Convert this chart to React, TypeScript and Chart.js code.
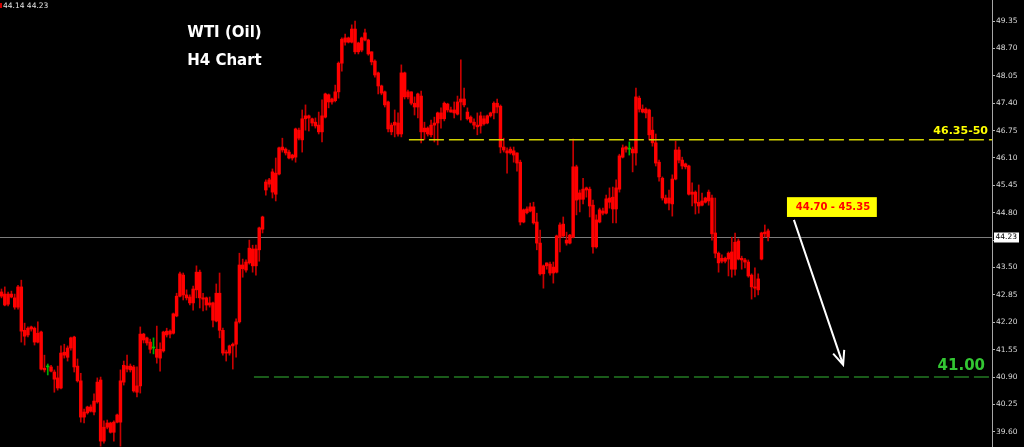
import React, { useEffect, useRef } from 'react';
import { Chart, registerables } from 'chart.js';

Chart.register(...registerables);

// ---- Candle data (WTI H4) ----
const opens = [
  42.92, 42.61, 42.87, 42.80, 42.78, 42.56, 43.04, 41.87, 41.90, 42.04,
  42.06, 41.73, 41.97, 41.07, 41.14, 41.14, 41.02, 40.88, 40.64, 41.42,
  41.37, 41.59, 41.85, 41.16, 40.81, 39.95, 40.05, 40.09, 40.07, 40.31,
  40.83, 39.38, 39.71, 39.81, 39.59, 39.83, 39.83, 40.78, 41.09, 41.16,
  41.14, 40.54, 40.69, 41.92, 41.83, 41.73, 41.59, 41.56, 41.35, 41.52,
  41.90, 41.99, 41.94, 42.35, 42.82, 43.32, 42.85, 42.80, 42.66, 42.97,
  43.39, 42.78, 42.78, 42.61, 42.66, 42.23, 42.89, 42.01, 41.47, 41.47,
  41.64, 41.68, 42.21, 43.56, 43.44, 43.61, 43.94, 43.54, 43.92, 44.41,
  45.34, 45.48, 45.77, 45.24, 45.72, 46.36, 46.31, 46.24, 46.10, 46.12,
  46.76, 46.53, 47.03, 47.10, 47.03, 46.95, 46.88, 46.72, 47.07, 47.60,
  47.43, 47.46, 47.67, 48.35, 48.95, 48.85, 48.85, 49.16, 48.62, 48.66,
  48.90, 48.90, 48.62, 48.40, 48.12, 47.81, 47.67, 47.43, 46.88, 46.88,
  46.93, 46.67, 48.12, 47.55, 47.67, 47.40, 47.31, 47.57, 46.72, 46.81,
  46.65, 46.88, 46.93, 47.17, 47.03, 47.38, 47.24, 47.24, 47.14, 47.43,
  47.50, 47.19, 47.07, 46.95, 46.88, 46.86, 47.03, 46.93, 47.10, 47.17,
  47.40, 47.33, 46.36, 46.27, 46.22, 46.27, 46.22, 46.00, 44.58, 44.89,
  44.84, 44.94, 44.58, 44.08, 43.35, 43.54, 43.58, 43.37, 43.39, 44.22,
  44.53, 44.15, 44.08, 44.22, 45.89, 45.12, 45.12, 45.34, 45.36, 44.98,
  43.99, 44.58, 44.84, 44.79, 45.15, 45.17, 44.89, 45.36, 46.12, 46.31,
  46.31, 46.31, 46.22, 47.52, 47.26, 47.26, 47.24, 46.76, 46.46, 46.00,
  45.62, 45.15, 45.03, 45.01, 45.60, 46.29, 46.05, 45.96, 45.91, 45.24,
  45.29, 45.05, 44.98, 45.05, 45.08, 45.15, 44.32, 43.84, 43.65, 43.72,
  43.70, 43.87, 43.46, 44.13, 43.72, 43.68, 43.63, 43.32, 43.04, 42.97,
  43.70, 44.30, 44.37,
];

const highs = [
  42.99, 43.04, 42.92, 42.94, 42.87, 43.08, 43.20, 42.18, 42.09, 42.11,
  42.09, 42.21, 41.99, 41.42, 41.21, 41.18, 41.07, 41.16, 41.64, 41.68,
  41.64, 41.85, 41.87, 41.33, 40.99, 40.14, 40.21, 40.24, 40.50, 40.88,
  40.90, 39.86, 39.88, 39.83, 39.86, 40.02, 41.07, 41.28, 41.42, 41.21,
  41.18, 41.14, 42.09, 41.94, 41.85, 41.80, 41.83, 42.11, 41.71, 41.99,
  42.06, 42.02, 42.42, 42.89, 43.39, 43.37, 42.97, 42.85, 43.06, 43.54,
  43.44, 42.89, 42.80, 42.80, 42.68, 43.11, 43.37, 42.06, 41.54, 41.66,
  41.71, 42.28, 43.84, 43.70, 43.68, 44.15, 44.03, 44.03, 44.46, 44.72,
  45.58, 45.62, 45.84, 46.10, 46.36, 46.57, 46.34, 46.29, 46.19, 46.81,
  46.81, 47.24, 47.36, 47.12, 47.05, 47.05, 47.19, 47.48, 47.64, 47.62,
  47.52, 47.83, 48.38, 48.95, 49.04, 48.97, 49.26, 49.35, 48.85, 48.97,
  49.16, 48.92, 48.62, 48.43, 48.14, 47.83, 47.69, 47.45, 46.93, 47.24,
  47.17, 48.31, 48.14, 47.71, 47.67, 47.55, 47.64, 47.69, 46.95, 46.84,
  47.00, 47.07, 47.19, 47.29, 47.43, 47.40, 47.31, 47.43, 47.57, 48.43,
  47.76, 47.29, 47.10, 47.03, 47.17, 47.19, 47.10, 47.12, 47.19, 47.43,
  47.50, 47.36, 46.57, 46.34, 46.36, 46.36, 46.22, 46.05, 44.89, 44.94,
  45.03, 45.05, 44.79, 44.39, 43.56, 43.61, 43.63, 43.63, 44.27, 44.56,
  44.70, 44.34, 44.29, 46.55, 45.93, 45.34, 45.62, 45.41, 45.41, 45.10,
  44.75, 44.91, 44.91, 45.22, 45.39, 45.41, 45.58, 46.19, 46.41, 46.38,
  46.48, 46.36, 47.76, 47.57, 47.36, 47.29, 47.26, 47.07, 46.67, 46.05,
  45.65, 45.22, 45.34, 45.70, 46.50, 46.36, 46.12, 45.98, 45.93, 45.51,
  45.32, 45.46, 45.27, 45.17, 45.34, 45.22, 45.15, 43.87, 43.80, 43.75,
  43.87, 44.22, 44.32, 44.18, 43.77, 43.72, 43.68, 43.35, 43.49, 43.35,
  44.34, 44.51, 44.41,
];

const lows = [
  42.78, 42.59, 42.59, 42.78, 42.51, 42.51, 41.73, 41.66, 41.85, 41.99,
  41.66, 41.71, 41.07, 41.02, 40.95, 41.02, 40.54, 40.59, 40.62, 41.35,
  41.28, 41.54, 41.02, 40.78, 39.83, 39.81, 40.02, 40.07, 40.00, 40.28,
  39.26, 39.33, 39.67, 39.57, 39.38, 39.81, 39.26, 40.71, 41.02, 41.02,
  40.54, 40.43, 40.52, 41.71, 41.66, 41.47, 41.45, 41.23, 41.04, 41.49,
  41.85, 41.83, 41.92, 42.33, 42.80, 42.73, 42.73, 42.61, 42.49, 42.78,
  42.54, 42.47, 42.49, 42.56, 42.09, 42.21, 41.83, 41.42, 41.28, 41.42,
  41.09, 41.37, 42.18, 43.27, 43.39, 43.58, 43.39, 43.32, 43.65, 44.32,
  45.22, 45.41, 45.15, 45.08, 45.70, 46.24, 46.17, 46.08, 46.05, 46.00,
  46.53, 46.24, 46.76, 46.74, 46.86, 46.81, 46.67, 46.48, 47.05, 47.29,
  47.38, 47.43, 47.52, 48.16, 48.78, 48.83, 48.83, 48.57, 48.57, 48.62,
  48.88, 48.54, 48.31, 48.02, 47.62, 47.60, 47.31, 46.72, 46.65, 46.60,
  46.62, 46.60, 47.50, 47.50, 47.36, 47.12, 47.05, 46.46, 46.53, 46.62,
  46.60, 46.48, 46.41, 46.81, 46.98, 47.19, 47.19, 47.05, 47.12, 47.00,
  47.31, 47.00, 46.93, 46.79, 46.65, 46.69, 46.88, 46.91, 47.07, 47.03,
  47.17, 46.22, 46.24, 45.74, 46.19, 46.00, 45.79, 44.51, 44.56, 44.77,
  44.82, 44.53, 43.92, 43.32, 43.01, 43.46, 43.32, 43.13, 43.37, 43.87,
  44.22, 44.03, 44.06, 44.20, 44.75, 44.82, 45.01, 45.17, 44.70, 43.84,
  43.96, 44.56, 44.75, 44.77, 44.91, 44.56, 44.56, 45.29, 46.10, 46.24,
  46.17, 45.77, 45.93, 47.19, 47.17, 47.05, 46.53, 46.38, 45.91, 45.55,
  45.10, 45.01, 44.87, 44.72, 45.58, 45.98, 45.84, 45.84, 45.22, 44.96,
  44.77, 44.79, 44.96, 45.03, 44.98, 44.15, 43.73, 43.39, 43.61, 43.61,
  43.30, 43.27, 43.32, 43.68, 43.46, 43.49, 43.27, 42.75, 42.80, 42.85,
  43.68, 44.22, 44.13,
];

const closes = [
  42.82, 42.87, 42.63, 42.87, 42.56, 43.04, 41.99, 42.01, 42.06, 42.09,
  41.73, 41.94, 41.09, 41.11, 41.14, 41.04, 40.85, 40.64, 41.47, 41.49,
  41.59, 41.83, 41.14, 40.81, 39.95, 40.07, 40.19, 40.19, 40.33, 40.78,
  39.38, 39.71, 39.81, 39.59, 39.83, 40.00, 40.81, 41.18, 41.16, 41.07,
  40.57, 40.69, 41.92, 41.78, 41.71, 41.56, 41.59, 41.37, 41.56, 41.97,
  41.99, 41.92, 42.40, 42.82, 43.35, 42.85, 42.78, 42.66, 42.99, 43.39,
  42.78, 42.75, 42.61, 42.66, 42.25, 42.89, 42.01, 41.47, 41.49, 41.64,
  41.68, 42.21, 43.56, 43.47, 43.63, 43.96, 43.54, 43.94, 44.44, 44.70,
  45.53, 45.58, 45.29, 45.74, 46.34, 46.29, 46.22, 46.10, 46.17, 46.79,
  46.57, 47.03, 47.10, 47.05, 46.93, 46.86, 46.72, 47.10, 47.62, 47.43,
  47.50, 47.67, 48.35, 48.92, 48.85, 48.95, 49.16, 48.62, 48.83, 48.95,
  49.07, 48.57, 48.38, 48.07, 47.81, 47.64, 47.36, 46.79, 46.72, 46.95,
  46.67, 48.12, 47.55, 47.67, 47.40, 47.31, 47.62, 46.72, 46.81, 46.67,
  46.88, 46.93, 47.17, 47.03, 47.40, 47.24, 47.19, 47.17, 47.43, 47.50,
  47.36, 47.03, 46.95, 46.88, 46.84, 47.10, 46.91, 47.10, 47.17, 47.40,
  47.31, 46.36, 46.29, 46.22, 46.31, 46.17, 45.98, 44.58, 44.87, 44.80,
  44.94, 44.56, 44.08, 43.35, 43.54, 43.61, 43.37, 43.51, 44.25, 44.51,
  44.25, 44.08, 44.27, 45.89, 45.10, 45.27, 45.36, 45.39, 44.96, 43.99,
  44.63, 44.87, 44.79, 45.13, 45.05, 44.89, 45.39, 46.15, 46.34, 46.36,
  46.31, 46.22, 47.55, 47.26, 47.19, 47.17, 46.65, 46.46, 45.98, 45.65,
  45.15, 45.03, 45.15, 45.60, 46.29, 46.05, 45.91, 45.89, 45.24, 45.29,
  45.03, 44.96, 45.08, 45.15, 45.29, 44.30, 43.84, 43.61, 43.72, 43.65,
  43.84, 43.46, 44.10, 43.70, 43.68, 43.63, 43.30, 43.04, 43.01, 43.23,
  44.32, 44.34, 44.23,
];

// ---- Axis ----
const priceTicks = [
  39.6, 40.25, 40.9, 41.55, 42.2, 42.85, 43.5, 44.15,
  44.8, 45.45, 46.1, 46.75, 47.4, 48.05, 48.7, 49.35,
];
const Y_MIN = 39.24;
const Y_MAX = 49.85;
const X_MIN = -0.45;
const X_MAX = 299.75;

// ---- Annotations (data coordinates: bar index, price) ----
const lastPrice = 44.23;
const bidAskText = '44.14 44.23';
const titleLines = ['WTI (Oil)', 'H4 Chart'];
const resistance = { price: 46.53, fromIndex: 123.3, label: '46.35-50' };
const support = { price: 40.9, fromIndex: 76.4, label: '41.00' };
const zone = { label: '44.70 - 45.35', fromIndex: 237.7, toIndex: 264.9, top: 45.17, bottom: 44.7 };
const arrowPath = { fromIndex: 239.8, fromPrice: 44.63, toIndex: 254.7, toPrice: 41.19 };

const FONT = "'DejaVu Sans', 'Liberation Sans', sans-serif";

const overlayPlugin = {
  id: 'overlay',
  beforeDraw(chart: any) {
    const { ctx, width, height } = chart;
    ctx.save();
    ctx.fillStyle = '#000000';
    ctx.fillRect(0, 0, width, height);
    ctx.restore();
  },
  beforeDatasetsDraw(chart: any) {
    const { ctx, chartArea, scales } = chart;
    const y = Math.round(scales.y.getPixelForValue(lastPrice)) + 0.5;
    ctx.save();
    ctx.strokeStyle = '#7c7c7c';
    ctx.lineWidth = 1;
    ctx.beginPath();
    ctx.moveTo(chartArea.left, y);
    ctx.lineTo(chartArea.right, y);
    ctx.stroke();
    ctx.restore();
  },
  afterDraw(chart: any) {
    const { ctx, chartArea, scales } = chart;
    const xs = scales.x;
    const ys = scales.y;
    ctx.save();

    // dashed levels
    const drawLevel = (price: number, fromIndex: number, color: string) => {
      const y = ys.getPixelForValue(price);
      ctx.save();
      ctx.strokeStyle = color;
      ctx.lineWidth = 1.5;
      ctx.setLineDash([15, 5]);
      ctx.beginPath();
      ctx.moveTo(xs.getPixelForValue(fromIndex), y);
      ctx.lineTo(chartArea.right, y);
      ctx.stroke();
      ctx.restore();
      return y;
    };
    const yRes = drawLevel(resistance.price, resistance.fromIndex, '#d2d200');
    const ySup = drawLevel(support.price, support.fromIndex, '#237a23');

    ctx.textBaseline = 'alphabetic';
    ctx.textAlign = 'right';
    ctx.fillStyle = '#ffff00';
    ctx.font = `bold 11px ${FONT}`;
    ctx.fillText(resistance.label, chartArea.right - 4, yRes - 6);

    ctx.fillStyle = '#33c633';
    ctx.font = `bold 15px ${FONT}`;
    ctx.fillText(support.label, chartArea.right - 7, ySup - 7);

    // title
    ctx.textAlign = 'center';
    ctx.fillStyle = '#ffffff';
    ctx.font = `bold 15px ${FONT}`;
    ctx.fillText(titleLines[0], 224.5, 37);
    ctx.fillText(titleLines[1], 224.5, 65);

    // top-left quote
    ctx.fillStyle = '#cc0000';
    ctx.fillRect(0, 3, 2, 5);
    ctx.textAlign = 'left';
    ctx.fillStyle = '#e6e6e6';
    ctx.font = `7.5px ${FONT}`;
    ctx.fillText(bidAskText, 3, 8);

    // target zone box
    const bx0 = xs.getPixelForValue(zone.fromIndex);
    const bx1 = xs.getPixelForValue(zone.toIndex);
    const by0 = ys.getPixelForValue(zone.top);
    const by1 = ys.getPixelForValue(zone.bottom);
    ctx.fillStyle = '#ffff00';
    ctx.fillRect(bx0, by0, bx1 - bx0, by1 - by0);
    ctx.fillStyle = '#ff0000';
    ctx.font = `bold 10px ${FONT}`;
    ctx.textAlign = 'center';
    ctx.textBaseline = 'middle';
    ctx.fillText(zone.label, (bx0 + bx1) / 2 + 1, (by0 + by1) / 2 + 0.5);

    // arrow
    const ax0 = xs.getPixelForValue(arrowPath.fromIndex);
    const ay0 = ys.getPixelForValue(arrowPath.fromPrice);
    const ax1 = xs.getPixelForValue(arrowPath.toIndex);
    const ay1 = ys.getPixelForValue(arrowPath.toPrice);
    const ang = Math.atan2(ay1 - ay0, ax1 - ax0);
    const len = 15;
    const spread = 0.4;
    ctx.strokeStyle = '#ffffff';
    ctx.lineWidth = 2;
    ctx.beginPath();
    ctx.moveTo(ax0, ay0);
    ctx.lineTo(ax1, ay1);
    ctx.moveTo(ax1 - len * Math.cos(ang - spread), ay1 - len * Math.sin(ang - spread));
    ctx.lineTo(ax1, ay1);
    ctx.lineTo(ax1 - len * Math.cos(ang + spread), ay1 - len * Math.sin(ang + spread));
    ctx.stroke();

    // last price label on the axis
    const py = ys.getPixelForValue(lastPrice);
    ctx.fillStyle = '#ffffff';
    ctx.fillRect(chartArea.right + 2, Math.round(py) - 4.5, 25, 10);
    ctx.fillStyle = '#000000';
    ctx.font = `7.5px ${FONT}`;
    ctx.textAlign = 'left';
    ctx.textBaseline = 'middle';
    ctx.fillText(lastPrice.toFixed(2), chartArea.right + 3.5, Math.round(py) + 0.5);

    ctx.restore();
  },
};

export default function App() {
  const ref = useRef<HTMLCanvasElement>(null);

  useEffect(() => {
    document.body.style.margin = '0';
    document.body.style.background = '#000';
    const idx = opens.map((_, i) => i);
    const isDoji = (i: number) => opens[i] === closes[i];

    const chart = new Chart(ref.current as HTMLCanvasElement, {
      type: 'bar',
      data: {
        datasets: [
          {
            label: 'body',
            data: idx.map((i) => ({ x: i, y: [opens[i], closes[i]] })) as any,
            backgroundColor: idx.map((i) => (isDoji(i) ? '#00c000' : '#ff0000')),
            borderWidth: 0,
            barThickness: 2.8,
            minBarLength: 1,
            grouped: false,
            order: 1,
          } as any,
          {
            label: 'wick',
            data: idx.map((i) => ({ x: i, y: [lows[i], highs[i]] })) as any,
            backgroundColor: idx.map((i) => (isDoji(i) ? '#00b000' : '#c80000')),
            borderWidth: 0,
            barThickness: 1,
            grouped: false,
            order: 2,
          } as any,
        ],
      },
      options: {
        responsive: false,
        animation: false,
        devicePixelRatio: 1,
        events: [],
        layout: { padding: 0 },
        plugins: {
          legend: { display: false },
          tooltip: { enabled: false },
        },
        scales: {
          x: {
            type: 'linear',
            display: false,
            min: X_MIN,
            max: X_MAX,
            offset: false,
            grid: { display: false },
          },
          y: {
            position: 'right',
            min: Y_MIN,
            max: Y_MAX,
            afterBuildTicks: (scale: any) => {
              scale.ticks = priceTicks.map((v) => ({ value: v }));
            },
            afterFit: (scale: any) => {
              scale.width = 32;
              scale.paddingTop = 0;
              scale.paddingBottom = 0;
            },
            ticks: {
              autoSkip: false,
              padding: 1,
              color: '#dcdcdc',
              font: { family: FONT, size: 7.5 },
              callback: (v: any) => Number(v).toFixed(2),
            },
            grid: {
              drawOnChartArea: false,
              drawTicks: true,
              tickLength: 3,
              color: '#b4b4b4',
              tickColor: '#b4b4b4',
            },
            border: { display: true, color: '#a6a6a6', width: 1 },
          },
        },
      } as any,
      plugins: [overlayPlugin],
    });
    return () => chart.destroy();
  }, []);

  return (
    <div style={{ position: 'fixed', left: 0, top: 0, width: 1024, height: 447, background: '#000' }}>
      <canvas ref={ref} width={1024} height={447} style={{ display: 'block', width: 1024, height: 447 }} />
    </div>
  );
}
